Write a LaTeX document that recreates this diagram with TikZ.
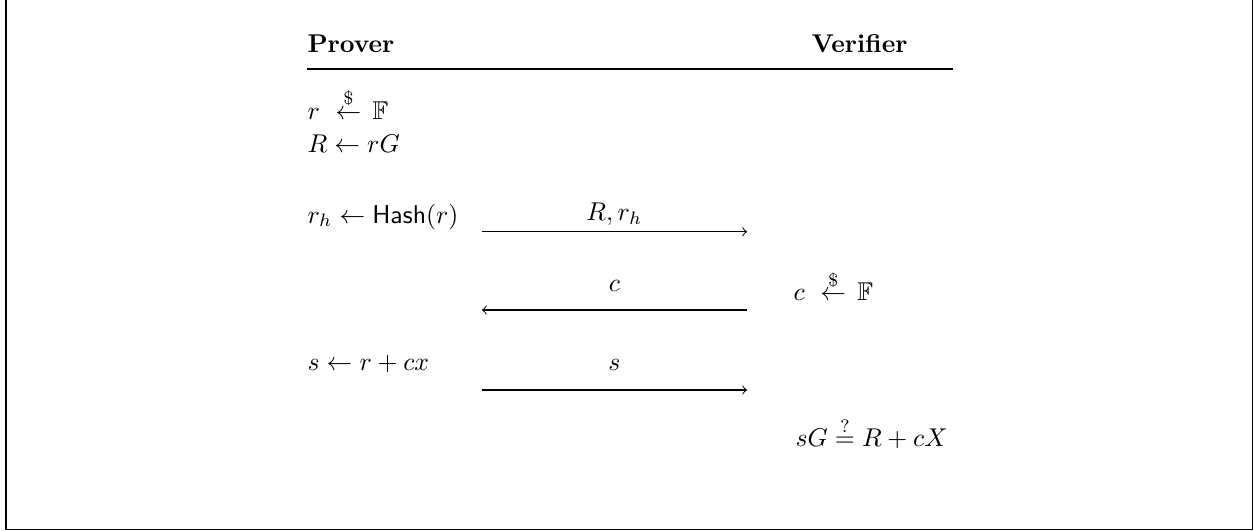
\documentclass[tikz,border=0pt]{standalone}
\usepackage{amsmath,amssymb}
\newcommand{\sampfrom}{\mathrel{\mkern6mu\overset{\$}{\leftarrow}\mkern3mu}}
\begin{document}
\begin{tikzpicture}[x=0.389pt,y=-0.389pt,
  txt/.style={inner sep=0pt,anchor=base west},
  lbl/.style={inner sep=0pt,anchor=base},
  msg/.style={line width=0.4pt,->},
  frame/.style={line width=0.6pt}]
\useasboundingbox (0,0) rectangle (1254,531);
% frame
\coordinate (ftl) at (6,0);
\coordinate (fbl) at (6,529.5);
\coordinate (fbr) at (1252.5,529.5);
\coordinate (ftr) at (1252.5,0);
\draw[frame] (ftl) -- (fbl) -- (fbr) -- (ftr);
% headers
\node[txt] (prover) at (307,53) {\textbf{Prover}};
\node[txt] (verifier) at (811,53) {\textbf{Verifier}};
\coordinate (rl) at (307,69);
\coordinate (rr) at (953,69);
\draw[line width=0.4pt] (rl) -- (rr);
% prover side
\node[txt] (p1) at (307,119) {$r \sampfrom \mathbb{F}$};
\node[txt] (p2) at (307,152.7) {$R \leftarrow rG$};
\node[txt] (p3) at (307,223) {$r_h \leftarrow \mathsf{Hash}(r)$};
\node[txt] (p4) at (307,370) {$s \leftarrow r + cx$};
% verifier side
\node[txt] (v1) at (793,300.7) {$c \sampfrom \mathbb{F}$};
\node[txt] (v2) at (795,446.7) {$sG \stackrel{?}{=} R + cX$};
% messages
\coordinate (m1s) at (482,231.7);
\coordinate (m1e) at (747,231.7);
\coordinate (m2s) at (747,310);
\coordinate (m2e) at (482,310);
\coordinate (m3s) at (482,390);
\coordinate (m3e) at (747,390);
\draw[msg] (m1s) -- (m1e);
\draw[msg] (m2s) -- (m2e);
\draw[msg] (m3s) -- (m3e);
\node[lbl] (l1) at (614.5,220.7) {$R, r_h$};
\node[lbl] (l2) at (614.5,291.7) {$c$};
\node[lbl] (l3) at (614.5,370) {$s$};
\end{tikzpicture}
\end{document}
